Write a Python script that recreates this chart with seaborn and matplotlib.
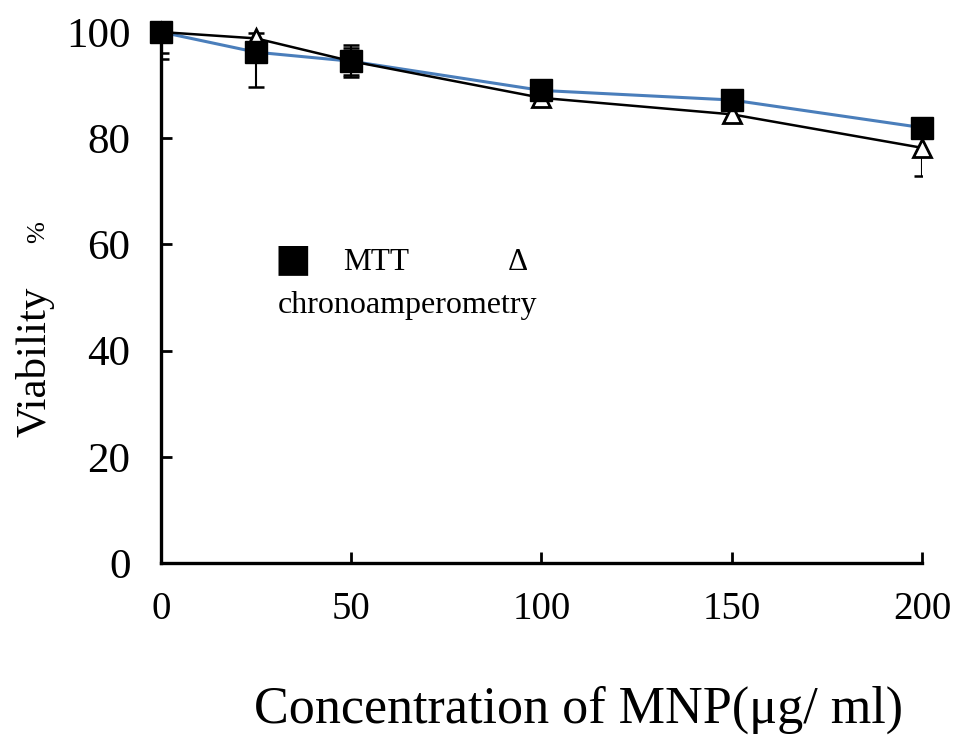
import matplotlib
matplotlib.use("Agg")
import matplotlib.pyplot as plt
import seaborn as sns
import pandas as pd

# Cell viability versus nanoparticle concentration
conc = [0, 25, 50, 100, 150, 200]
mtt = [100, 96.2, 94.5, 89.0, 87.2, 82.0]
mtt_err = [4.0, 6.5, 3.0, 1.0, 1.0, 1.5]
chrono = [100, 98.8, 94.5, 87.6, 84.5, 78.2]
chrono_err = [5.0, 1.0, 2.5, 1.5, 1.0, 5.3]

x_ticks = [0, 50, 100, 150, 200]
y_ticks = [0, 20, 40, 60, 80, 100]

sns.set_theme(style="white")
plt.rcParams["font.family"] = ["Liberation Serif", "DejaVu Serif"]
plt.rcParams["text.color"] = "black"
plt.rcParams["axes.labelcolor"] = "black"
plt.rcParams["xtick.color"] = "black"
plt.rcParams["ytick.color"] = "black"

df = pd.DataFrame({"conc": conc, "mtt": mtt, "chrono": chrono})

fig = plt.figure(figsize=(9.59, 7.38), dpi=100)
ax = fig.add_axes([0.1679, 0.2371, 0.7935, 0.7195])

sns.lineplot(data=df, x="conc", y="mtt", ax=ax, color="#4a7ebb", lw=2.2,
             zorder=2, clip_on=False)
sns.lineplot(data=df, x="conc", y="chrono", ax=ax, color="black", lw=1.8,
             zorder=3, clip_on=False)

# error bars are clipped at the plot frame
ax.errorbar(conc, chrono, yerr=chrono_err, fmt="none", ecolor="black",
            elinewidth=1.5, capsize=5.5, capthick=1.8, zorder=4)
ax.errorbar(conc, mtt, yerr=mtt_err, fmt="none", ecolor="black",
            elinewidth=1.5, capsize=5.5, capthick=1.8, zorder=4)

ax.plot(conc, chrono, ls="none", marker="^", ms=13, mfc="white",
        mec="black", mew=2.0, zorder=5, clip_on=False)
ax.plot(conc, mtt, ls="none", marker="s", ms=15.5, mfc="black",
        mec="black", mew=1, zorder=6, clip_on=False)

ax.set_xlim(0, 200)
ax.set_ylim(0, 100)
ax.set_xticks(x_ticks)
ax.set_yticks(y_ticks)
ax.set_xticklabels([str(v) for v in x_ticks], fontsize=28)
ax.set_yticklabels([str(v) for v in y_ticks], fontsize=31)

for side in ("top", "right"):
    ax.spines[side].set_visible(False)
for side in ("left", "bottom"):
    ax.spines[side].set_linewidth(2.4)
    ax.spines[side].set_color("black")

ax.tick_params(axis="x", direction="in", length=8, width=2, pad=20,
               bottom=True)
ax.tick_params(axis="y", direction="in", length=8, width=2, pad=22,
               left=True)

ax.set_xlabel("Concentration of MNP(μg/ ml)", fontsize=37.5)
ax.xaxis.set_label_coords(0.549, -0.231)
ax.set_ylabel("")
fig.text(0.036, 0.51, "Viability", rotation=90, fontsize=31,
         ha="center", va="center")
fig.text(0.04, 0.686, "%", rotation=90, fontsize=19, ha="center",
         va="center")

# In-plot key
ax.text(34.7, 57.3, "■", fontsize=28, family="DejaVu Sans",
        ha="center", va="center")
ax.text(47.8, 55.2, "MTT", fontsize=22.5, ha="left", va="baseline")
ax.text(91.2, 55.2, "Δ", fontsize=22.5, ha="left", va="baseline")
ax.text(30.7, 47.1, "chronoamperometry", fontsize=23, ha="left",
        va="baseline")

fig.savefig("out.png", dpi=100)
